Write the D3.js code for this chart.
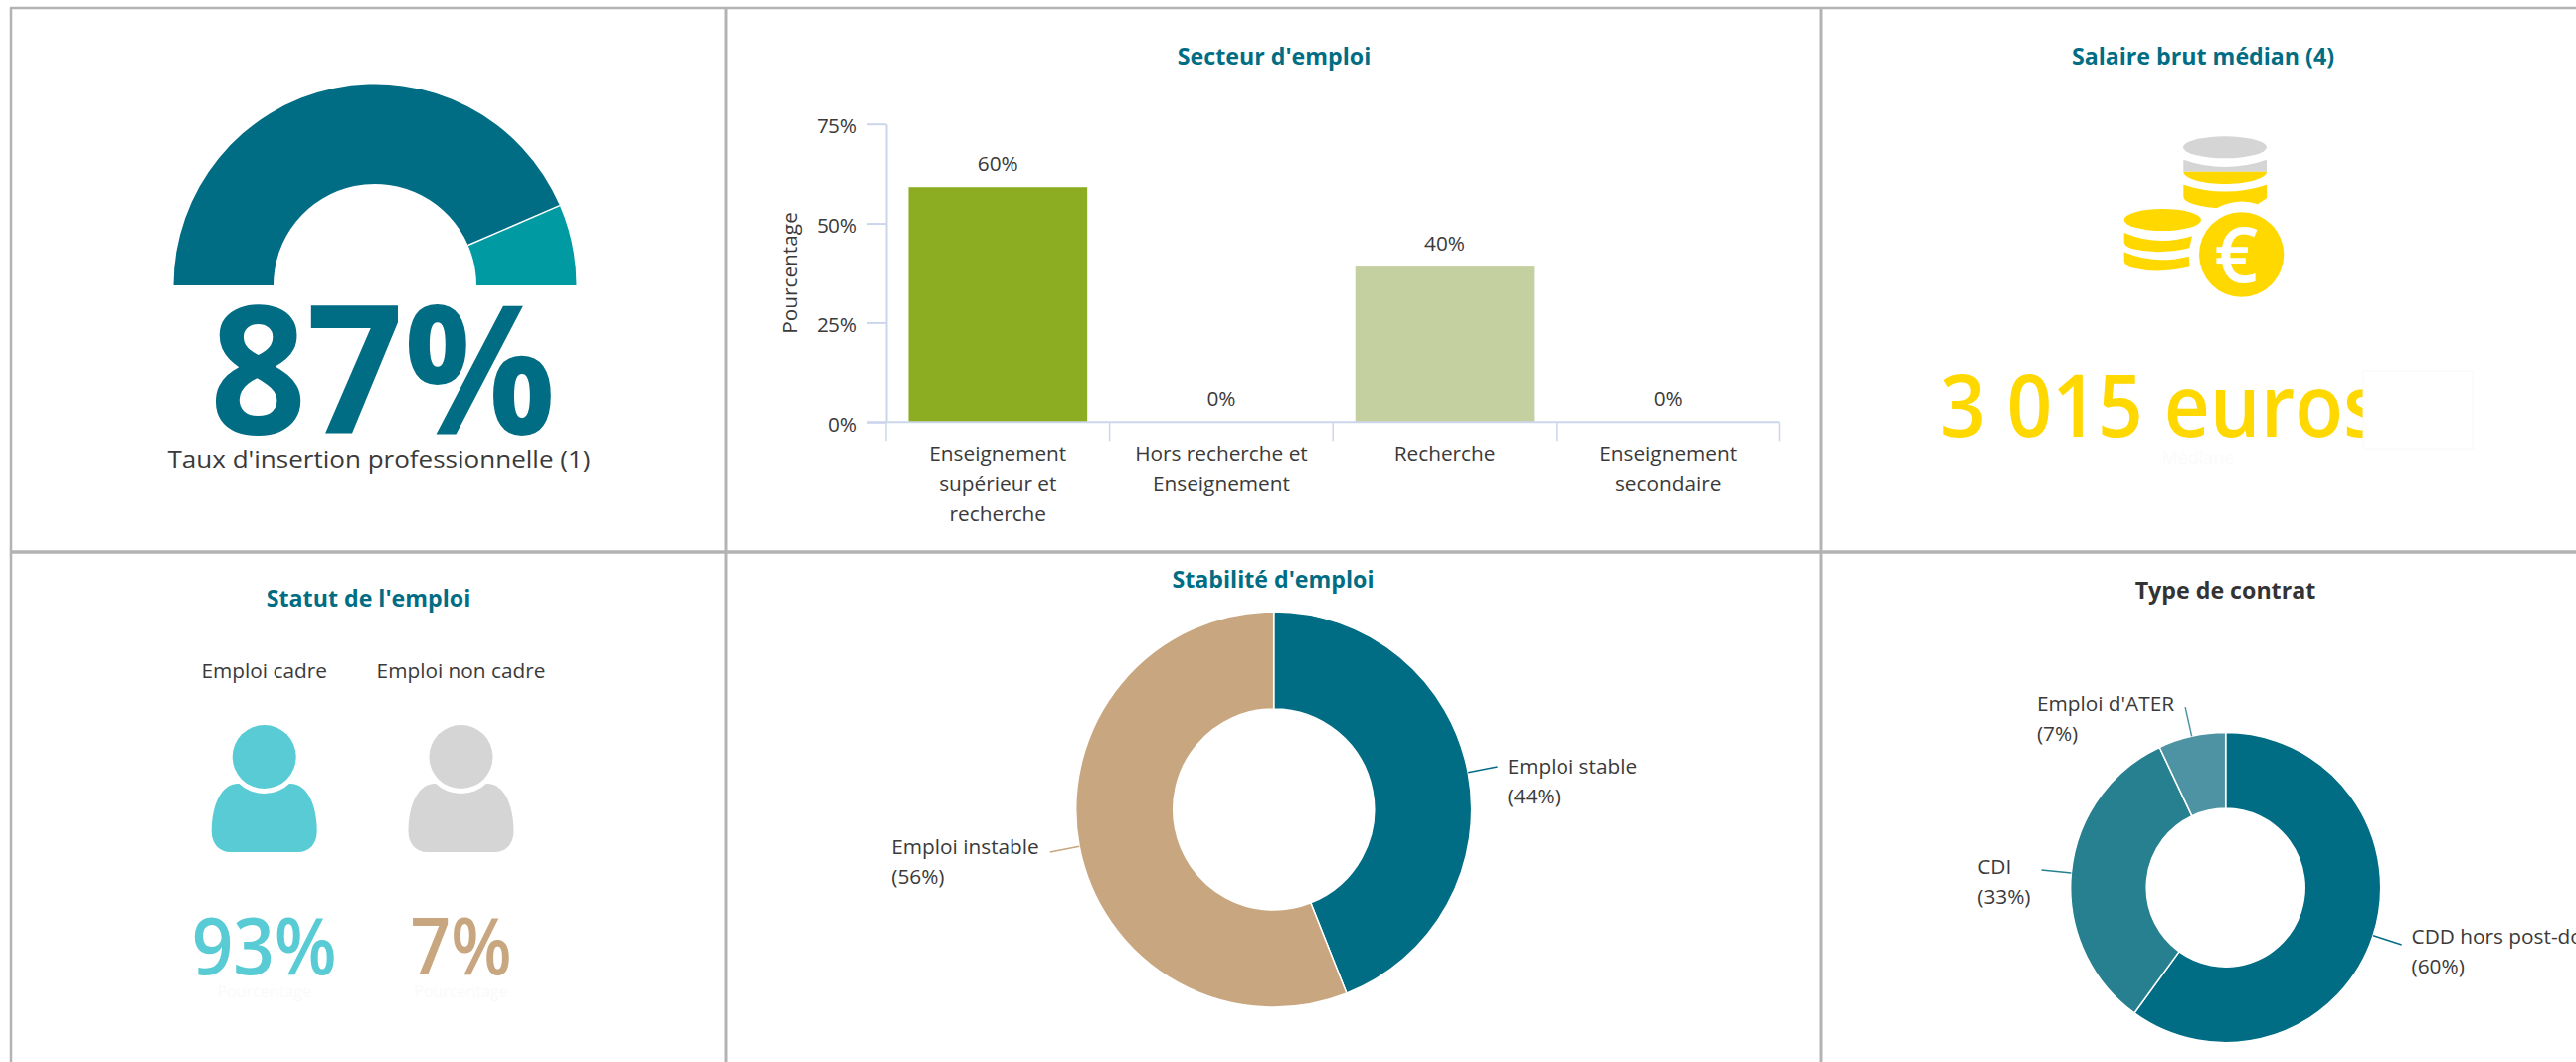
<!DOCTYPE html>
<html>
<head>
<meta charset="utf-8">
<script src="https://cdn.jsdelivr.net/npm/d3@7"></script>
<style>
    html, body { margin: 0; padding: 0; background: #fff; overflow: hidden; }
    text { font-family: "Open Sans", sans-serif; fill: #3a3a3a; }
</style>
</head>
<body>
<div id="chart"></div>
<script>
const gaugeValues = [87, 13];
const gaugeColors = ['#006d84', '#009aa3'];

const sectorCategories = [
    ['Enseignement', 'supérieur et', 'recherche'],
    ['Hors recherche et', 'Enseignement'],
    ['Recherche'],
    ['Enseignement', 'secondaire']
];
// bar heights as measured, they sit a little under the printed labels
const sectorValues = [59.1, 0, 39.1, 0];
const sectorLabels = ['60%', '0%', '40%', '0%'];
const sectorColors = ['#8cad22', '#8cad22', '#c5d0a1', '#c5d0a1'];
const sectorTicks = [0, 25, 50, 75];

const statusNames = ['Emploi cadre', 'Emploi non cadre'];
const statusValues = ['93%', '7%'];
const statusIconColors = ['#58cbd4', '#d5d5d5'];
const statusTextColors = ['#58cbd4', '#c8a780'];

const stabilityNames = ['Emploi stable', 'Emploi instable'];
const stabilityValues = [44, 56];
const stabilityColors = ['#006d84', '#c8a780'];

const contractNames = ['CDD hors post-doc', 'CDI', "Emploi d'ATER"];
const contractValues = [60, 33, 7];
const contractColors = ['#006d84', '#26808f', '#4d93a3'];

const salaryText = '3 015 euros';

const width = 2590, height = 1068;
const teal = '#006d84', gold = '#ffd800', grey = '#d5d5d5';
const textSize = 20.8;

const svg = d3.select('#chart').append('svg')
    .attr('width', width)
    .attr('height', height)
    .style('display', 'block');

function label(x, y, str, size, opts = {}) {
    const t = svg.append('text')
        .attr('x', x)
        .attr('y', y)
        .attr('text-anchor', opts.anchor || 'middle')
        .style('font-size', size + 'px')
        .style('font-weight', opts.weight || 400)
        .style('fill', opts.fill || '#3a3a3a')
        .text(str);
    if (opts.length) t.attr('textLength', opts.length).attr('lengthAdjust', 'spacingAndGlyphs');
    return t;
}

function title(x, y, str, fill) {
    return label(x, y, str, 23.2, { weight: 700, fill: fill || teal });
}

/* panel borders */
const borders = [
    [10, 8, 2590, 8, 2.5],
    [11, 8, 11, 1068, 2.5],
    [730, 8, 730, 1068, 3],
    [1831, 8, 1831, 1068, 3],
    [10, 555, 2590, 555, 3.5]
];
svg.selectAll('line.border')
    .data(borders)
    .enter().append('line')
    .attr('class', 'border')
    .attr('x1', d => d[0]).attr('y1', d => d[1])
    .attr('x2', d => d[2]).attr('y2', d => d[3])
    .style('stroke', '#b3b3b3')
    .style('stroke-width', d => d[4]);

/* gauge */
const gauge = svg.append('g').attr('transform', 'translate(377,287)');
const gaugePie = d3.pie().sort(null).startAngle(-Math.PI / 2).endAngle(Math.PI / 2);
const gaugeArc = d3.arc().innerRadius(102).outerRadius(202.5);
gauge.selectAll('path')
    .data(gaugePie(gaugeValues))
    .enter().append('path')
    .attr('d', gaugeArc)
    .style('fill', (d, i) => gaugeColors[i]);
// the slices are only split by a white line, the flat bottom stays clean
gaugePie(gaugeValues).slice(0, 1).forEach(d => {
    const a = d.endAngle;
    gauge.append('line')
        .attr('x1', 102 * Math.sin(a)).attr('y1', -102 * Math.cos(a))
        .attr('x2', 202.5 * Math.sin(a)).attr('y2', -202.5 * Math.cos(a))
        .style('stroke', '#fff')
        .style('stroke-width', 1.5);
});
label(385, 436, gaugeValues[0] + '%', 180, { weight: 700, fill: teal, length: 348 });
label(381, 471, "Taux d'insertion professionnelle (1)", 24, { length: 425 });

/* bars */
title(1281, 65, "Secteur d'emploi");
const x = d3.scaleBand()
    .domain(d3.range(sectorCategories.length))
    .range([891, 1789.5])
    .paddingInner(0.2)
    .paddingOuter(0.1);
const y = d3.scaleLinear().domain([0, 75]).range([424.3, 124.7]);

svg.append('g').selectAll('rect')
    .data(sectorValues)
    .enter().append('rect')
    .attr('x', (d, i) => x(i))
    .attr('y', d => y(d))
    .attr('width', x.bandwidth())
    .attr('height', d => y(0) - y(d))
    .style('fill', (d, i) => sectorColors[i]);

const yAxis = svg.append('g')
    .attr('transform', 'translate(891,0)')
    .call(d3.axisLeft(y).tickValues(sectorTicks).tickSize(19).tickSizeOuter(0).tickFormat(d => d + '%'));
yAxis.select('.domain').style('stroke', '#ccd6eb').style('stroke-width', 2);
yAxis.selectAll('.tick line').style('stroke', '#ccd6eb').style('stroke-width', 2);
yAxis.selectAll('.tick text')
    .attr('x', -29)
    .attr('dy', 9)
    .style('font-size', textSize + 'px');

const xAxisLine = svg.append('g').attr('transform', 'translate(0,424.3)');
xAxisLine.append('line')
    .attr('x1', 872).attr('x2', 1789.5)
    .style('stroke', '#ccd6eb').style('stroke-width', 2);
xAxisLine.selectAll('line.tick')
    .data(d3.range(sectorCategories.length + 1))
    .enter().append('line')
    .attr('class', 'tick')
    .attr('x1', i => x.step() * i + 891).attr('x2', i => x.step() * i + 891)
    .attr('y1', 0).attr('y2', 19)
    .style('stroke', '#ccd6eb').style('stroke-width', 1.5);

sectorCategories.forEach((lines, i) => {
    lines.forEach((s, j) => label(x(i) + x.bandwidth() / 2, 463.6 + j * 30, s, textSize));
    label(x(i) + x.bandwidth() / 2, y(sectorValues[i]) - 16, sectorLabels[i], textSize);
});
svg.append('text')
    .attr('transform', 'translate(800.5,274.5) rotate(-90)')
    .attr('text-anchor', 'middle')
    .style('font-size', textSize + 'px')
    .text('Pourcentage');

/* salary */
title(2215, 65, 'Salaire brut médian (4)');
// coin icon, drawn in a 600x600 box
const coins = svg.append('g').attr('transform', 'translate(2110,120) scale(0.3333)');
coins.append('ellipse').attr('cx', 381).attr('cy', 85).attr('rx', 126).attr('ry', 33).style('fill', grey);
coins.append('path').attr('d', 'M256,122 Q381,166 507,122 L507,158 L256,158 Z').style('fill', grey);
coins.append('path').attr('d', 'M256,158 L507,158 C507,180 440,195 381,195 C320,195 256,180 256,158 Z').style('fill', gold);
coins.append('path').attr('d', 'M256,197 Q381,238 507,197 L507,238 L480,256 Q420,235 355,268 C300,262 256,252 256,232 Z').style('fill', gold);
coins.append('ellipse').attr('cx', 193).attr('cy', 303).attr('rx', 116).attr('ry', 33).style('fill', gold);
coins.append('path').attr('d', 'M77,342 Q180,385 282,352 L274,388 Q180,410 100,390 Q77,382 77,370 Z').style('fill', gold);
coins.append('path').attr('d', 'M77,400 Q170,440 272,413 L275,445 Q180,468 100,448 Q77,440 77,425 Z').style('fill', gold);
coins.append('circle').attr('cx', 431).attr('cy', 408).attr('r', 128).style('fill', gold);
coins.append('text')
    .attr('x', 415).attr('y', 492)
    .attr('text-anchor', 'middle')
    .style('font-size', '231px')
    .style('font-weight', 600)
    .style('fill', '#fff')
    .text('€');

label(1951, 439, salaryText, 86, { anchor: 'start', weight: 600, fill: gold, length: 444 });
label(2210, 467, 'Médiane', 18, { fill: '#fbfbfb' });
// blank box left over the end of the amount in the original
svg.append('rect')
    .attr('x', 2376).attr('y', 373)
    .attr('width', 110).attr('height', 79)
    .style('fill', '#fff')
    .style('stroke', '#f8f8f8');

/* status */
title(370.5, 610, "Statut de l'emploi");
const statusX = [265.7, 463.5];
const statusW = [146, 102];
statusNames.forEach((name, i) => {
    label(statusX[i], 681.5, name, textSize);
    const p = svg.append('g').attr('transform', `translate(${statusX[i]},761)`);
    p.append('path')
        .attr('d', 'M-26,27 C-44,27 -53,50 -53,75 C-53,88 -45,96 -34,96 L34,96 C45,96 53,88 53,75 C53,50 44,27 26,27 Z')
        .style('fill', statusIconColors[i]);
    p.append('circle').attr('r', 37).style('fill', '#fff');
    p.append('circle').attr('r', 32).style('fill', statusIconColors[i]);
    label(statusX[i], 979.5, statusValues[i], 80, { weight: 600, fill: statusTextColors[i], length: statusW[i] });
    label(statusX[i], 1003, 'Pourcentage', 16, { fill: '#fafafa' });
});

/* donuts */
function donut(cx, cy, r, r0, names, values, colors, dys) {
    const g = svg.append('g').attr('transform', `translate(${cx},${cy})`);
    const pie = d3.pie().sort(null);
    const arc = d3.arc().innerRadius(r0).outerRadius(r);
    const slices = pie(values);
    g.selectAll('path')
        .data(slices)
        .enter().append('path')
        .attr('d', arc)
        .style('fill', (d, i) => colors[i])
        .style('stroke', '#fff')
        .style('stroke-width', 1.5);
    slices.forEach((d, i) => {
        const a = (d.startAngle + d.endAngle) / 2;
        const ex = cx + (r + 30) * Math.sin(a), ey = cy - (r + 30) * Math.cos(a);
        svg.append('line')
            .attr('x1', cx + r * Math.sin(a)).attr('y1', cy - r * Math.cos(a))
            .attr('x2', ex).attr('y2', ey)
            .style('stroke', colors[i])
            .style('stroke-width', 1.5);
        const right = Math.sin(a) > 0;
        const t1 = label(0, ey + dys[i], names[i], textSize, { anchor: 'start' });
        const t2 = label(0, ey + dys[i] + 30, '(' + values[i] + '%)', textSize, { anchor: 'start' });
        const w = Math.max(t1.node().getComputedTextLength(), t2.node().getComputedTextLength());
        const lx = right ? ex + 10 : ex - 11 - w;
        t1.attr('x', lx);
        t2.attr('x', lx);
    });
}

title(1280, 591, "Stabilité d'emploi");
donut(1280.7, 814, 199, 101, stabilityNames, stabilityValues, stabilityColors, [7, 2]);

title(2237.5, 602, 'Type de contrat', '#333');
donut(2237.7, 892.6, 156, 79.5, contractNames, contractValues, contractColors, [-1, 4, 3.5]);
</script>
</body>
</html>
